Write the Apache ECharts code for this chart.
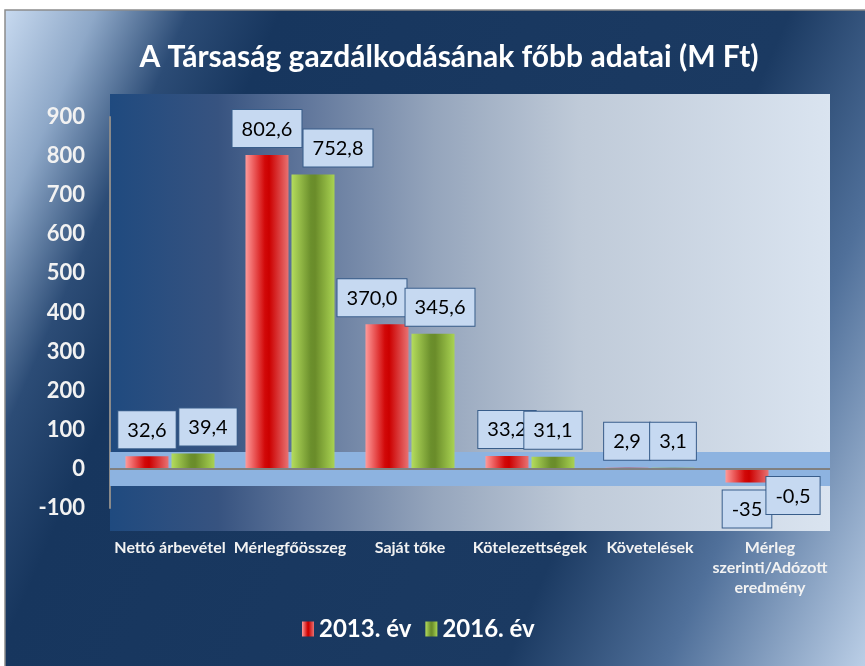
<!DOCTYPE html>
<html>
<head>
<meta charset="utf-8">
<script src="https://cdn.jsdelivr.net/npm/echarts@6/dist/echarts.min.js"></script>
<style>
  html, body { margin: 0; padding: 0; background: #fff; }
  #chart { width: 865px; height: 666px; }
</style>
</head>
<body>
<div id="chart"></div>
<script>
const categories = ['Nettó árbevétel', 'Mérlegfőösszeg', 'Saját tőke', 'Kötelezettségek', 'Követelések', 'Mérleg\nszerinti/Adózott\neredmény'];
const values2013 = [32.6, 802.6, 370.0, 33.2, 2.9, -35];
const values2016 = [39.4, 752.8, 345.6, 31.1, 3.1, -0.5];
const labels2013 = ['32,6', '802,6', '370,0', '33,2', '2,9', '-35'];
const labels2016 = ['39,4', '752,8', '345,6', '31,1', '3,1', '-0,5'];

const FONT = 'Lato, "Open Sans", sans-serif';
const chart = echarts.init(document.getElementById('chart'));

// sideways nudges of colliding data labels, as in the original (series-dataIndex)
const labelNudge = { '1-0': 15, '1-1': 25, '0-2': -15, '1-2': 7 };

const redBar = new echarts.graphic.LinearGradient(0, 0, 1, 0, [
    { offset: 0, color: '#ff9a9a' },
    { offset: 0.45, color: '#d20808' },
    { offset: 0.55, color: '#cc0000' },
    { offset: 1, color: '#e87272' }
]);
const greenBar = new echarts.graphic.LinearGradient(0, 0, 1, 0, [
    { offset: 0, color: '#b4dc5c' },
    { offset: 0.45, color: '#6b8f2c' },
    { offset: 0.55, color: '#6a8c2a' },
    { offset: 1, color: '#a9d352' }
]);

const dataLabel = labels => ({
    show: true,
    position: 'outside',
    distance: 8,
    formatter: p => labels[p.dataIndex],
    color: '#000',
    fontFamily: FONT,
    fontSize: 20,
    backgroundColor: '#c6d9f1',
    borderColor: '#385d8a',
    borderWidth: 1,
    padding: [9, 9, 8, 9]
});

const nudge = p => ({ dx: labelNudge[p.seriesIndex + '-' + p.dataIndex] || 0 });

const option = {
    animation: false,
    graphic: [
        {
            type: 'rect',
            z: -10,
            shape: { x: 5, y: 10, width: 866, height: 662 },
            style: {
                fill: new echarts.graphic.LinearGradient(0, 0, 1.12, 0.64, [
                    { offset: 0, color: '#c8daf0' },
                    { offset: 0.08, color: '#8ea8c8' },
                    { offset: 0.16, color: '#2c4c76' },
                    { offset: 0.24, color: '#17365e' },
                    { offset: 0.68, color: '#1b3a62' },
                    { offset: 0.82, color: '#50709a' },
                    { offset: 1, color: '#c0d3ea' }
                ]),
                stroke: '#8c8c8c',
                lineWidth: 1.5
            }
        },
        {
            type: 'rect',
            z: -5,
            shape: { x: 110, y: 94, width: 720, height: 437 },
            style: {
                fill: new echarts.graphic.LinearGradient(0, 0, 1, 0, [
                    { offset: 0, color: '#1f4a7f' },
                    { offset: 0.15, color: '#375380' },
                    { offset: 0.27, color: '#60769b' },
                    { offset: 0.45, color: '#95a5bc' },
                    { offset: 0.65, color: '#bfcad8' },
                    { offset: 1, color: '#dae4f0' }
                ])
            }
        }
    ],
    title: {
        text: 'A Társaság gazdálkodásának főbb adatai (M Ft)',
        left: 444,
        textAlign: 'center',
        top: 37,
        textStyle: { color: '#ffffff', fontFamily: FONT, fontWeight: 'bold', fontSize: 30 }
    },
    legend: {
        data: ['2013. év', '2016. év'],
        left: 297,
        top: 612,
        icon: 'rect',
        itemWidth: 12,
        itemHeight: 15,
        itemGap: 14,
        textStyle: { color: '#ffffff', fontFamily: FONT, fontWeight: 'bold', fontSize: 24 }
    },
    grid: { left: 110, right: 35, top: 117, bottom: 158 },
    xAxis: {
        type: 'category',
        data: categories,
        axisLine: { show: false },
        axisTick: { show: false },
        axisLabel: {
            color: '#f2f2f2',
            fontFamily: FONT,
            fontWeight: 'bold',
            fontSize: 16,
            lineHeight: 20,
            margin: 30,
            interval: 0
        }
    },
    yAxis: {
        type: 'value',
        min: -100,
        max: 900,
        interval: 100,
        splitLine: { show: false },
        axisTick: { show: false },
        axisLine: { show: true, lineStyle: { color: '#8a8a8a', width: 2 } },
        axisLabel: {
            color: '#f2f2f2',
            fontFamily: FONT,
            fontWeight: 'bold',
            fontSize: 22,
            margin: 25
        }
    },
    series: [
        {
            name: '2013. év',
            type: 'bar',
            data: values2013,
            barWidth: 43,
            barGap: '7%',
            itemStyle: { color: redBar },
            label: dataLabel(labels2013),
            labelLayout: nudge,
            markArea: {
                silent: true,
                itemStyle: { color: '#8db3e0' },
                data: [[{ yAxis: 43 }, { yAxis: -44 }]]
            },
            markLine: {
                silent: true,
                symbol: 'none',
                label: { show: false },
                lineStyle: { color: '#808080', width: 2, type: 'solid' },
                data: [{ yAxis: 0 }]
            }
        },
        {
            name: '2016. év',
            type: 'bar',
            data: values2016,
            barWidth: 43,
            barGap: '7%',
            itemStyle: { color: greenBar },
            label: dataLabel(labels2016),
            labelLayout: nudge
        }
    ]
};

chart.setOption(option);
</script>
</body>
</html>
